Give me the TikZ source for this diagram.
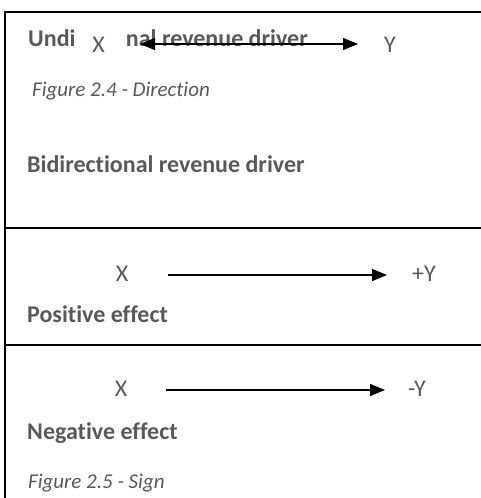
\documentclass[tikz,border=0pt]{standalone}
\usepackage{fontspec}
\setmainfont[Ligatures={NoCommon}]{Carlito}
\usetikzlibrary{arrows.meta}
\definecolor{txtgray}{HTML}{595959}
\tikzset{
  x=1pt,y=1pt,
  heading/.style={anchor=base west,inner sep=0pt,font=\fontsize{24}{28}\selectfont\bfseries,text=txtgray},
  caption/.style={anchor=base west,inner sep=0pt,font=\fontsize{21}{25}\selectfont\itshape,text=txtgray},
  var/.style={inner sep=0pt,font=\fontsize{24}{28}\selectfont,text=txtgray},
  frame/.style={line width=1.4pt,black},
  conn/.style={line width=1.3pt,black},
  oneway/.style={conn,-{Triangle[length=15pt,width=12pt]}},
  twoway/.style={conn,{Triangle[length=15pt,width=12pt]}-{Triangle[length=15pt,width=12pt]}}
}
\begin{document}
\begin{tikzpicture}
\useasboundingbox (0,0) rectangle (481,-498);
% frame
\draw[frame] (481,-12) -- (5,-12) -- (5,-498);
\draw[frame] (5,-228) -- (481,-228);
\draw[frame] (5,-345) -- (481,-345);
% section 1
\node[heading] (h1a) at (28,-46) {Undi};
\node[heading, anchor=base east] (h1b) at (308,-46) {nal revenue driver};
\node[var] (x1) at (98.5,-45) {X};
\node[var] (y1) at (390,-45) {Y};
\coordinate (a1s) at (140,-44);
\coordinate (a1e) at (358,-44);
\draw[twoway] (a1s) -- (a1e);
\node[caption] (c1) at (32,-96) {Figure 2.4 - Direction};
\node[heading] (h2) at (27,-172) {Bidirectional revenue driver};
% section 2
\node[var] (x2) at (122,-274) {X};
\node[var] (y2) at (424,-274) {+Y};
\coordinate (a2s) at (168,-275);
\coordinate (a2e) at (387,-275);
\draw[oneway] (a2s) -- (a2e);
\node[heading] (h3) at (27,-322) {Positive effect};
% section 3
\node[var] (x3) at (121,-389) {X};
\node[var] (y3) at (417,-389) {-Y};
\coordinate (a3s) at (166,-390);
\coordinate (a3e) at (385,-390);
\draw[oneway] (a3s) -- (a3e);
\node[heading] (h4) at (27,-439) {Negative effect};
\node[caption] (c2) at (28,-488) {Figure 2.5 - Sign};
\end{tikzpicture}
\end{document}
